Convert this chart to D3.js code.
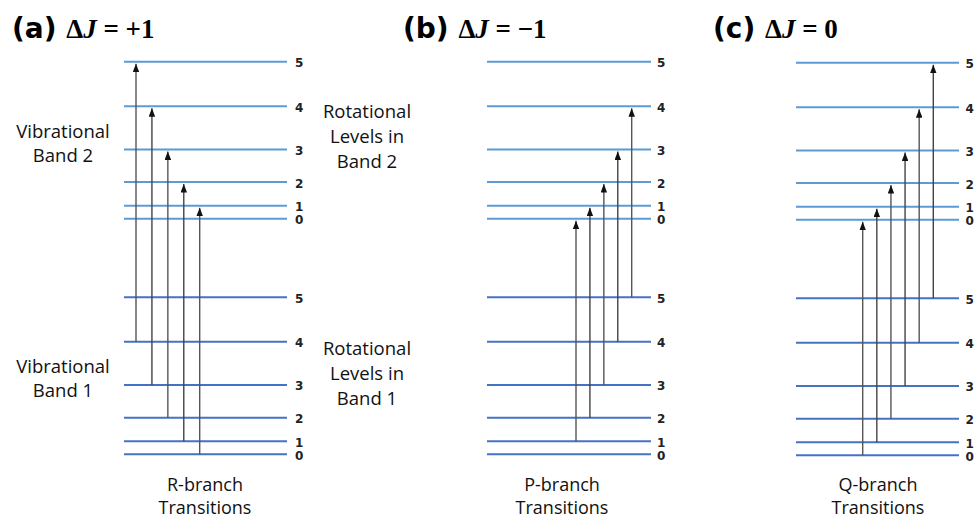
<!DOCTYPE html>
<html>
<head>
<meta charset="utf-8">
<script src="https://cdn.jsdelivr.net/npm/d3@7"></script>
<style>
  html, body { margin: 0; padding: 0; background: #fff; }
  svg { display: block; }
</style>
</head>
<body>
<svg id="chart" width="975" height="518"></svg>
<script>
// ---------------- data ----------------
const levels = [0, 1, 2, 3, 4, 5];                 // rotational quantum number J
const rotEnergy = [0, 1, 2.8, 5.3, 8.6, 12];        // relative rotational energy of each J
const bandEnergy = [0, 18];                         // vibrational band 1, band 2
const panelLetters = ["(a)", "(b)", "(c)"];
const deltaJ = ["+1", "\u22121", "0"];
const branchNames = ["R-branch", "P-branch", "Q-branch"];
const transitionsR = [[4, 5], [3, 4], [2, 3], [1, 2], [0, 1]];
const transitionsP = [[1, 0], [2, 1], [3, 2], [4, 3], [5, 4]];
const transitionsQ = [[0, 0], [1, 1], [2, 2], [3, 3], [4, 4], [5, 5]];
const transitions = [transitionsR, transitionsP, transitionsQ];

// ---------------- layout ----------------
const svg = d3.select("#chart");
const y = d3.scaleLinear().domain([0, 30]).range([454.3, 61.7]);

const layout = [
  { x0: 124, x1: 287, lab: 295, ax0: 136,   ax1: 199.7, dy: 0, title: 12,  brX: 205 },
  { x0: 487, x1: 651, lab: 657, ax0: 576,   ax1: 631.7, dy: 0, title: 403, brX: 562 },
  { x0: 796, x1: 959, lab: 965.5, ax0: 862.7, ax1: 933.3, dy: 1, title: 713, brX: 878 }
];
const bandColors = ["#4472c4", "#5b9bd5"];
const arrowColors = ["#555", "#444", "#555", "#444", "#555", "#444"];

const defs = svg.append("defs");
defs.append("marker")
  .attr("id", "head")
  .attr("viewBox", "0 0 10 10")
  .attr("preserveAspectRatio", "none")
  .attr("refX", 10).attr("refY", 5)
  .attr("markerWidth", 8.5).attr("markerHeight", 6.5)
  .attr("markerUnits", "userSpaceOnUse")
  .attr("orient", "auto")
  .append("path")
  .attr("d", "M0,0 L10,5 L0,10 Z")
  .attr("fill", "#111");

panelLetters.forEach((letter, p) => {
  const L = layout[p];
  const g = svg.append("g").attr("transform", `translate(0,${L.dy})`);

  // level lines
  bandEnergy.forEach((be, b) => {
    g.selectAll(null)
      .data(levels)
      .join("line")
      .attr("x1", L.x0).attr("x2", L.x1)
      .attr("y1", j => y(be + rotEnergy[j]))
      .attr("y2", j => y(be + rotEnergy[j]))
      .attr("stroke", bandColors[b])
      .attr("stroke-width", 2);

    g.selectAll(null)
      .data(levels)
      .join("text")
      .attr("x", L.lab)
      .attr("y", j => y(be + rotEnergy[j]) + 2)
      .attr("dominant-baseline", "middle")
      .attr("font-family", "DejaVu Sans, sans-serif")
      .attr("font-weight", "bold")
      .attr("font-size", 12)
      .attr("fill", "#222")
      .text(j => j);
  });

  // transitions
  const tr = transitions[p];
  const ax = d3.scaleLinear().domain([0, tr.length - 1]).range([L.ax0, L.ax1]);
  g.selectAll(null)
    .data(tr)
    .join("line")
    .attr("x1", (d, i) => ax(i)).attr("x2", (d, i) => ax(i))
    .attr("y1", d => y(bandEnergy[0] + rotEnergy[d[0]]))
    .attr("y2", d => y(bandEnergy[1] + rotEnergy[d[1]]) + 2)
    .attr("stroke", (d, i) => arrowColors[i])
    .attr("stroke-width", 1.4)
    .attr("marker-end", "url(#head)");

  // title
  const t = svg.append("text")
    .attr("x", L.title).attr("y", 38)
    .attr("font-weight", "bold")
    .attr("fill", "#000");
  t.append("tspan")
    .attr("font-family", "DejaVu Sans, sans-serif")
    .attr("font-size", 28)
    .text(letter + " ");
  t.append("tspan")
    .attr("font-family", "Liberation Serif, serif")
    .attr("font-size", 27)
    .text("\u0394");
  t.append("tspan")
    .attr("font-family", "Liberation Serif, serif")
    .attr("font-style", "italic")
    .attr("font-size", 27)
    .text("J");
  t.append("tspan")
    .attr("font-family", "Liberation Serif, serif")
    .attr("font-size", 27)
    .text(" = " + deltaJ[p]);

  // branch label
  const bt = svg.append("text")
    .attr("x", L.brX).attr("text-anchor", "middle")
    .attr("font-family", "Open Sans, sans-serif")
    .attr("font-size", 18)
    .attr("fill", "#111");
  bt.append("tspan").attr("x", L.brX).attr("y", 491).text(branchNames[p]);
  bt.append("tspan").attr("x", L.brX).attr("y", 514).text("Transitions");
});

// side labels
function multiLabel(x, lines, yStart, step) {
  const t = svg.append("text")
    .attr("text-anchor", "middle")
    .attr("font-family", "Open Sans, sans-serif")
    .attr("font-size", 18.5)
    .attr("fill", "#111");
  lines.forEach((s, i) => t.append("tspan").attr("x", x).attr("y", yStart + i * step).text(s));
}
multiLabel(63, ["Vibrational", "Band 2"], 138, 24);
multiLabel(63, ["Vibrational", "Band 1"], 373, 24);
multiLabel(367, ["Rotational", "Levels in", "Band 2"], 118, 25);
multiLabel(367, ["Rotational", "Levels in", "Band 1"], 355, 25);
</script>
</body>
</html>
